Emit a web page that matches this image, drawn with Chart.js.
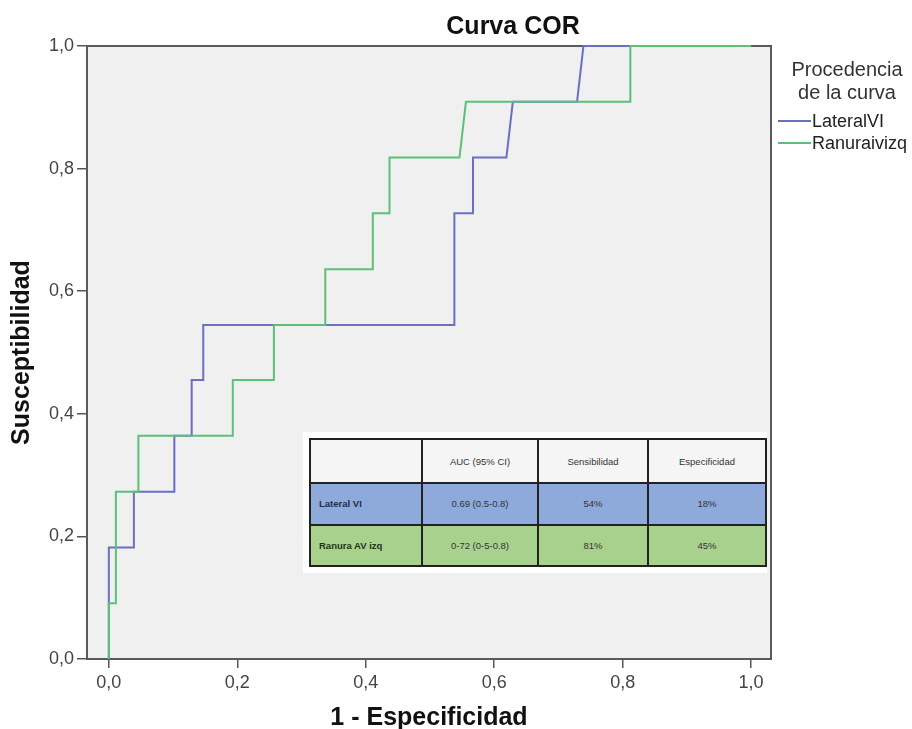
<!DOCTYPE html>
<html>
<head>
<meta charset="utf-8">
<script src="https://cdn.jsdelivr.net/npm/chart.js@4.4.1/dist/chart.umd.min.js"></script>
<style>
  html, body { margin: 0; padding: 0; background: #fff; }
  #wrap { position: relative; width: 912px; height: 729px; }
  #auc {
    position: absolute; left: 303px; top: 432px;
    background: #fff; padding: 6px 0 6px 6px;
  }
  #auc table {
    border-collapse: collapse; width: 456px; height: 129px; table-layout: fixed;
    font-family: "Liberation Sans", Arial, sans-serif; font-size: 9.5px; color: #333;
  }
  #auc td { border: 2px solid #222; text-align: center; padding: 0 4px; }
  #auc td.lab { text-align: left; padding-left: 8px; font-weight: bold; color: #1f2f4a; }
  #auc tr.head td { background: #f5f5f5; height: 42px; }
  #auc tr.r0 td { background: #8eaadb; }
  #auc tr.r1 td { background: #a9d18e; }
  #auc tr.r1 td.lab { color: #24361a; }
</style>
</head>
<body>
<div id="wrap">
  <canvas id="roc" width="912" height="729"></canvas>
  <div id="auc"></div>
</div>
<script>
// puntos de las curvas COR (1 - especificidad, sensibilidad)
var lateralX = [0, 0, 0.039, 0.039, 0.102, 0.102, 0.129, 0.129, 0.147, 0.147, 0.538, 0.538, 0.567, 0.567, 0.619, 0.629, 0.729, 0.739, 1.0];
var lateralY = [0, 0.182, 0.182, 0.273, 0.273, 0.364, 0.364, 0.455, 0.455, 0.545, 0.545, 0.727, 0.727, 0.818, 0.818, 0.909, 0.909, 1.0, 1.0];
var ranuraX = [0, 0, 0.011, 0.011, 0.046, 0.046, 0.193, 0.193, 0.257, 0.257, 0.337, 0.337, 0.411, 0.411, 0.437, 0.437, 0.546, 0.556, 0.812, 0.812, 1.0];
var ranuraY = [0, 0.091, 0.091, 0.273, 0.273, 0.364, 0.364, 0.455, 0.455, 0.545, 0.545, 0.636, 0.636, 0.727, 0.727, 0.818, 0.818, 0.909, 0.909, 1.0, 1.0];

var seriesNames = ['LateralVI', 'Ranuraivizq'];
var tickValues = [0, 0.2, 0.4, 0.6, 0.8, 1.0];

// tabla superpuesta
var tableHead = ['', 'AUC (95% CI)', 'Sensibilidad', 'Especificidad'];
var tableRows = ['Lateral VI', 'Ranura AV izq'];
var aucValues = ['0.69 (0.5-0.8)', '0-72 (0-5-0.8)'];
var sensValues = ['54%', '81%'];
var specValues = ['18%', '45%'];

function toPoints(xs, ys) {
  return xs.map(function (x, i) { return { x: x, y: ys[i] }; });
}

function comma(v) {
  return v.toFixed(1).replace('.', ',');
}

var html = '<table><colgroup><col style="width:112px"><col style="width:116px">' +
  '<col style="width:110px"><col style="width:118px"></colgroup><tr class="head">';
tableHead.forEach(function (h) { html += '<td>' + h + '</td>'; });
html += '</tr>';
tableRows.forEach(function (r, i) {
  html += '<tr class="r' + i + '"><td class="lab">' + r + '</td><td>' + aucValues[i] +
    '</td><td>' + sensValues[i] + '</td><td>' + specValues[i] + '</td></tr>';
});
html += '</table>';
document.getElementById('auc').innerHTML = html;

var FONT = '"Liberation Sans", Arial, sans-serif';

var framePlugin = {
  id: 'frame',
  beforeDraw: function (chart) {
    var a = chart.chartArea, ctx = chart.ctx;
    ctx.save();
    ctx.fillStyle = '#f0f0f0';
    ctx.fillRect(a.left, a.top, a.right - a.left, a.bottom - a.top);
    ctx.restore();
  },
  beforeDatasetsDraw: function (chart) {
    var a = chart.chartArea, ctx = chart.ctx;
    ctx.save();
    ctx.strokeStyle = '#5a5a5a';
    ctx.lineWidth = 2;
    ctx.strokeRect(a.left, a.top, a.right - a.left, a.bottom - a.top);
    ctx.restore();
  },
  afterDraw: function (chart) {
    var ctx = chart.ctx;
    ctx.save();
    // titulo
    ctx.fillStyle = '#111';
    ctx.font = 'bold 25px ' + FONT;
    ctx.textAlign = 'center';
    ctx.textBaseline = 'middle';
    ctx.fillText('Curva COR', 513, 27);
    // leyenda
    ctx.fillStyle = '#333';
    ctx.font = '20px ' + FONT;
    ctx.fillText('Procedencia', 847, 70);
    ctx.fillText('de la curva', 847, 93);
    ctx.textAlign = 'left';
    ctx.font = '18px ' + FONT;
    chart.data.datasets.forEach(function (ds, i) {
      var y = 121 + i * 22;
      ctx.strokeStyle = ds.borderColor;
      ctx.lineWidth = 2;
      ctx.beginPath();
      ctx.moveTo(778, y);
      ctx.lineTo(811, y);
      ctx.stroke();
      ctx.fillStyle = '#222';
      ctx.fillText(ds.label, 812, y + 1);
    });
    ctx.restore();
  }
};

new Chart(document.getElementById('roc').getContext('2d'), {
  type: 'scatter',
  data: {
    datasets: [{
      label: seriesNames[0],
      data: toPoints(lateralX, lateralY),
      borderColor: '#6a6fc2',
      showLine: true,
      borderWidth: 2,
      pointRadius: 0,
      clip: false,
      order: 2
    }, {
      label: seriesNames[1],
      data: toPoints(ranuraX, ranuraY),
      borderColor: '#5dc079',
      showLine: true,
      borderWidth: 2,
      pointRadius: 0,
      clip: false,
      order: 1
    }]
  },
  options: {
    responsive: false,
    animation: false,
    layout: { padding: { left: 0, top: 46, right: 141, bottom: 0 } },
    plugins: {
      legend: { display: false },
      title: { display: false },
      tooltip: { enabled: false }
    },
    scales: {
      x: {
        type: 'linear',
        min: -0.034,
        max: 1.031,
        afterBuildTicks: function (scale) {
          scale.ticks = tickValues.map(function (v) { return { value: v }; });
        },
        afterFit: function (scale) { scale.height = 70; },
        border: { display: false },
        grid: { drawOnChartArea: false, tickLength: 9, color: '#555', lineWidth: 1.5 },
        ticks: {
          padding: 4, color: '#444', font: { family: FONT, size: 18 },
          maxRotation: 0, callback: function (v) { return comma(v); }
        },
        title: {
          display: true, text: '1 - Especificidad', color: '#111',
          font: { family: FONT, size: 25, weight: 'bold', lineHeight: 0.9 }, padding: { top: 0, bottom: 0 }
        }
      },
      y: {
        type: 'linear',
        min: 0,
        max: 1,
        afterBuildTicks: function (scale) {
          scale.ticks = tickValues.map(function (v) { return { value: v }; });
        },
        afterFit: function (scale) { scale.width = 87; },
        border: { display: false },
        grid: { drawOnChartArea: false, tickLength: 10, color: '#555', lineWidth: 1.5 },
        ticks: {
          padding: 3, color: '#444', font: { family: FONT, size: 18 },
          callback: function (v) { return comma(v); }
        },
        title: {
          display: true, text: 'Susceptibilidad', color: '#111',
          font: { family: FONT, size: 25, weight: 'bold', lineHeight: 1.2 }, padding: { top: 7, bottom: 0 }
        }
      }
    }
  },
  plugins: [framePlugin]
});
</script>
</body>
</html>
